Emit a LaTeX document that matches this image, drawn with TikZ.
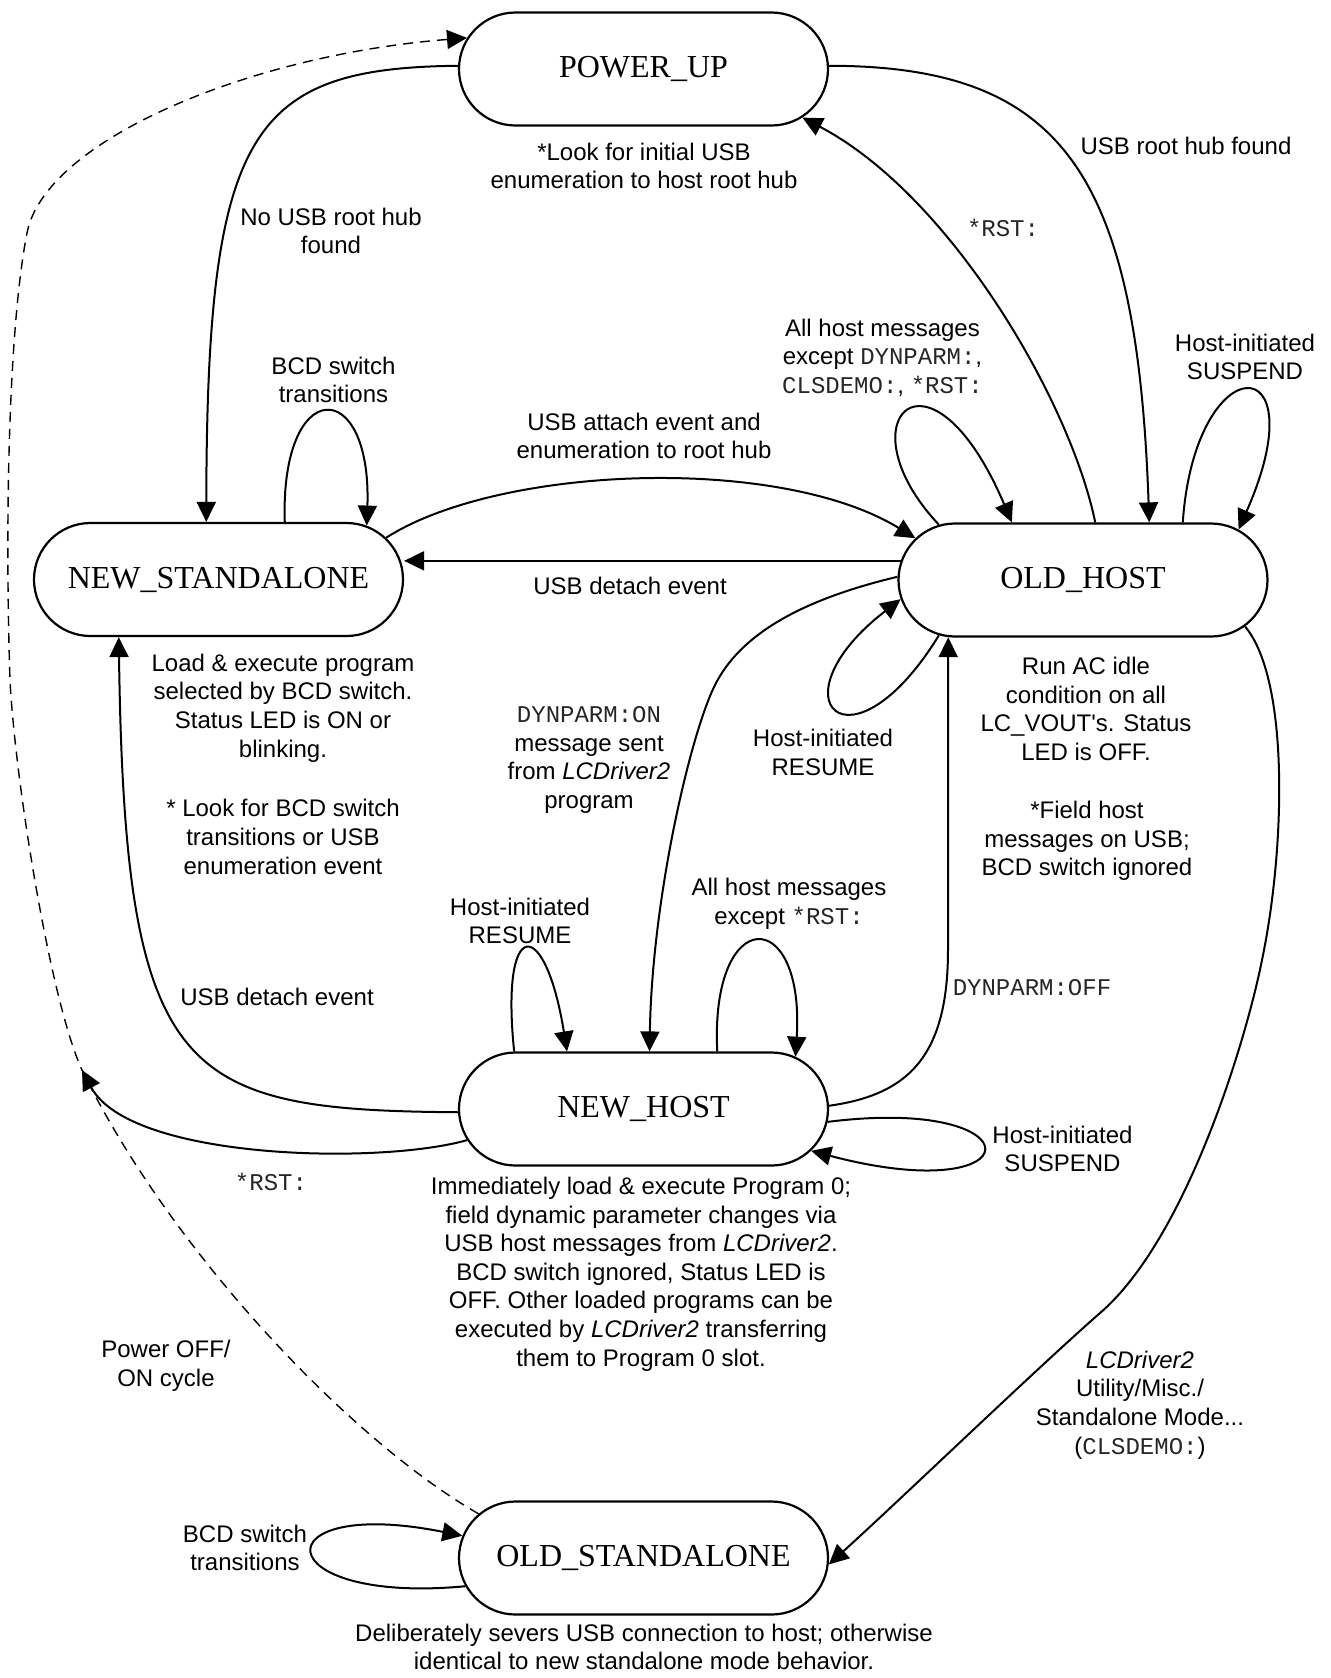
\documentclass[tikz,border=0pt]{standalone}
\usepackage{fontspec}
\setmainfont{Liberation Sans}
\setmonofont{Liberation Mono}
\newfontfamily\serifstate{Liberation Serif}
\usetikzlibrary{arrows.meta,shapes.misc}

\newcommand\stfont{\serifstate\fontsize{16}{19}\selectfont}
\newcommand\txfont{\fontsize{12}{14.3}\selectfont}
\newcommand\cmd[1]{{\color{black!85}\texttt{#1}}}

\tikzset{
  state/.style={rounded rectangle, draw, line width=1.1pt, minimum width=184.5pt,
    minimum height=56.5pt, inner sep=0pt, font=\stfont},
  note/.style={align=center, inner sep=0pt, font=\txfont},
  arr/.style={line width=1pt, -{Triangle[length=10pt,width=9.5pt]}},
  dasharr/.style={arr, line width=0.7pt, dash pattern=on 5pt off 3.5pt},
}

\begin{document}
\begin{tikzpicture}[x=0.5pt, y=-0.5pt]
      \useasboundingbox (0,0) rectangle (1330,1678);

      % States
      \node[state] (pu) at (643.5,69)   {POWER\_UP};
      \node[state] (ns) at (218.5,579.5) {NEW\_STANDALONE};
      \node[state] (oh) at (1083,580)   {OLD\_HOST};
      \node[state] (nh) at (643.5,1109) {NEW\_HOST};
      \node[state] (os) at (643.5,1558) {OLD\_STANDALONE};

      % State descriptions
      \node[note] (pumemo) at (644,166) {*Look for initial USB\\enumeration to host root hub};
      \node[note] (nsmemo) at (283,708)
        {Load \& execute program\\selected by BCD switch.\\Status LED is ON or\\blinking.};
      \node[note] (nsmemob) at (283,837)
        {* Look for BCD switch\\transitions or USB\\enumeration event};
      \node[note] (ohmemo) at (1086,709)
        {Run AC idle\\condition on all\\LC\_VOUT\textquotesingle s. Status\\LED is OFF.};
      \node[note] (ohmemob) at (1087,841)
        {*Field host\\messages on USB;\\BCD switch ignored};
      \node[note] (nhmemo) at (641,1274)
        {Immediately load \& execute Program 0;\\field dynamic parameter changes via\\
         USB host messages from \textit{LCDriver2}.\\BCD switch ignored, Status LED is\\
         OFF. Other loaded programs can be\\executed by \textit{LCDriver2} transferring\\
         them to Program 0 slot.};
      \node[note] (osmemo) at (644,1647)
        {Deliberately severs USB connection to host; otherwise\\identical to new standalone mode behavior.};

      % Transition labels
      \node[note] (lnousb)   at (331,231)    {No USB root hub\\found};
      \node[note] (lfound)   at (1186,146)   {USB root hub found};
      \node[note] (lrsttop)  at (1003,228)   {\cmd{*RST:}};
      \node[note] (lohall)   at (882.5,357.5)
        {All host messages\\except \cmd{DYNPARM:},\\\cmd{CLSDEMO:}, \cmd{*RST:}};
      \node[note] (lohsusp)  at (1245,357)   {Host-initiated\\SUSPEND};
      \node[note] (lnsbcd)   at (333.5,380)  {BCD switch\\transitions};
      \node[note] (lattach)  at (644,436)    {USB attach event and\\enumeration to root hub};
      \node[note] (ldetach)  at (630,586)    {USB detach event};
      \node[note] (ldynon)   at (589,760)
        {\cmd{DYNPARM:ON}\\message sent\\from \textit{LCDriver2}\\program};
      \node[note] (lohres)   at (823,752.5)  {Host-initiated\\RESUME};
      \node[note] (lnhres)   at (520,921)    {Host-initiated\\RESUME};
      \node[note] (lnhall)   at (789,904)    {All host messages\\except \cmd{*RST:}};
      \node[note] (ldetachb) at (277,997)    {USB detach event};
      \node[note] (ldynoff)  at (1032,988)   {\cmd{DYNPARM:OFF}};
      \node[note] (lnhsusp)  at (1062.5,1149) {Host-initiated\\SUSPEND};
      \node[note] (lrstlow)  at (271,1182)   {\cmd{*RST:}};
      \node[note] (lpower)   at (166,1366)   {Power OFF/\\ON cycle};
      \node[note] (llcd)     at (1140,1405)
        {\textit{LCDriver2}\\Utility/Misc./\\Standalone Mode...\\(\cmd{CLSDEMO:})};
      \node[note] (losbcd)   at (245,1548)   {BCD switch\\transitions};

      % From POWER_UP
      \draw[arr] (pu.179) .. controls (250,68) and (207,130) .. (ns.102);
      \draw[arr] (pu.1) .. controls (1062,66) and (1137,172) .. (oh.41);
      \draw[arr] (oh.78) .. controls (1070,400) and (950,195) .. (pu.-17);

      % NEW_STANDALONE <-> OLD_HOST
      \draw[arr] (ns.41) .. controls (280,375) and (372,375) .. (ns.20);
      \draw[arr] (ns.14) .. controls (500,465) and (780,455) .. (oh.166);
      \draw[arr] (oh.174) -- (oh.174 -| ns.east);

      % OLD_HOST loops
      \draw[arr] (oh.159) .. controls (840,420) and (930,330) .. (oh.141);
      \draw[arr] (oh.30) .. controls (1195,345) and (1320,345) .. (oh.18);
      \draw[arr] (oh.201) .. controls (850,780) and (770,700) .. (oh.186);

      % OLD_HOST <-> NEW_HOST
      \draw[arr] (oh.179) .. controls (800,600) and (740,635) .. (715,685)
                 .. controls (690,735) and (652,900) .. (nh.84);
      \draw[arr] (nh.1) .. controls (905,1095) and (948,1060) .. (948,950) -- (oh.203);

      % NEW_HOST loops
      \draw[arr] (nh.156) .. controls (500,915) and (545,915) .. (nh.143);
      \draw[arr] (nh.38) .. controls (710,904) and (805,904) .. (nh.19);
      \draw[arr] (nh.-4) .. controls (1040,1095) and (1035,1210) .. (nh.-14);

      % NEW_HOST -> NEW_STANDALONE, *RST:
      \coordinate (rstend) at (82,1070);
      \draw[arr] (nh.181) .. controls (180,1110) and (125,1080) .. (ns.210);
      \draw[arr] (nh.190) .. controls (380,1165) and (130,1160) .. (rstend);

      % OLD_HOST -> OLD_STANDALONE
      \draw[arr] (oh.-16) .. controls (1290,680) and (1285,850) .. (1262,960)
                 .. controls (1245,1045) and (1185,1240) .. (1100,1313)
                 .. controls (1035,1370) and (900,1500) .. (os.-2);
      \draw[arr] (os.189) .. controls (265,1605) and (260,1495) .. (os.173);

      % Power cycle
      \draw[dasharr] (os.165) .. controls (350,1440) and (170,1250) .. (rstend)
                 .. controls (50,1000) and (15,780) .. (10,680)
                 .. controls (5,530) and (8,330) .. (27,233)
                 .. controls (45,140) and (250,55) .. (pu.170);
\end{tikzpicture}
\end{document}
